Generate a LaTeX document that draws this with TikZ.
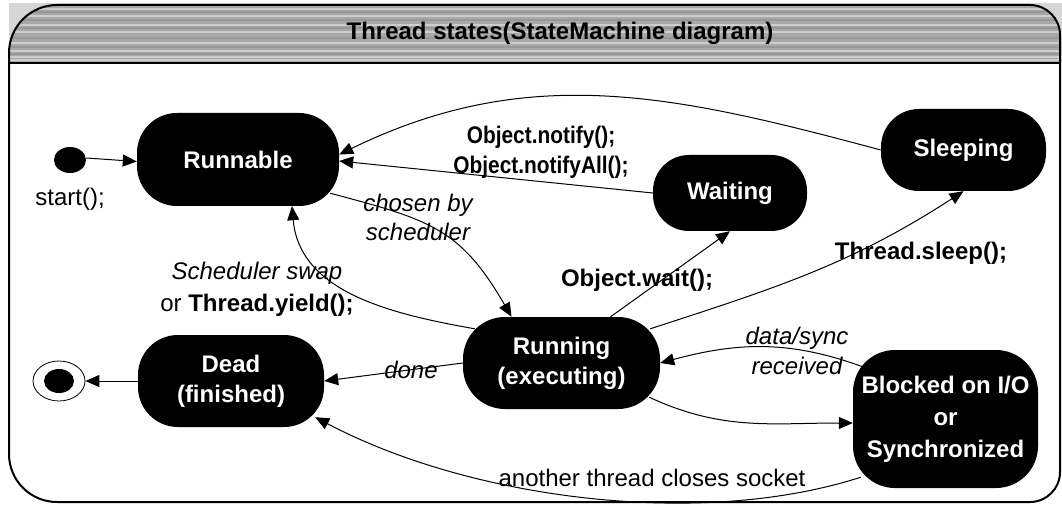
\documentclass[tikz,border=0pt]{standalone}
\usepackage{fontspec}
\setmainfont{Liberation Sans}
\newfontfamily\condfont[FakeStretch=0.87]{Liberation Sans}
\usetikzlibrary{arrows.meta,shapes.geometric}
\definecolor{tbase}{RGB}{168,168,168}
\definecolor{tlight}{RGB}{205,205,205}
\definecolor{tdark}{RGB}{152,152,152}
\definecolor{cornergray}{RGB}{214,214,214}
\begin{document}
\begin{tikzpicture}[x=1pt,y=1pt,
  state/.style={fill=black, text=white, align=center, inner sep=0pt,
    font=\fontsize{24}{30}\selectfont\bfseries},
  conn/.style={draw, line width=1pt, -{Triangle[length=14pt,width=12pt]}},
  lab/.style={align=center, inner sep=0pt, font=\fontsize{24}{30}\selectfont},
  blab/.style={lab, font=\fontsize{24}{30}\selectfont\bfseries},
  ilab/.style={lab, font=\fontsize{24}{30}\selectfont\itshape}
]
\useasboundingbox (0,0) rectangle (1062,504);
% title bar background
\fill[cornergray] (9,441) rectangle (1062,501);
\begin{scope}
  \clip (9,451) -- (9,50) arc[start angle=180,end angle=270,radius=48] -- (1030,2)
    arc[start angle=270,end angle=360,radius=30] -- (1060,469)
    arc[start angle=0,end angle=90,radius=30] -- (57,499)
    arc[start angle=90,end angle=180,radius=48] -- cycle;
  \fill[tbase] (0,441) rectangle (1062,504);
  \foreach \yy in {443,446,452,460,471,478,487,494}
    \fill[tlight] (0,\yy) rectangle (1062,\yy+2);
  \foreach \yy in {449,456,465,475,483,491}
    \fill[tdark] (0,\yy) rectangle (1062,\yy+1.5);
\end{scope}
\draw[line width=2pt] (9,451) -- (9,50) arc[start angle=180,end angle=270,radius=48] -- (1030,2)
    arc[start angle=270,end angle=360,radius=30] -- (1060,469)
    arc[start angle=0,end angle=90,radius=30] -- (57,499)
    arc[start angle=90,end angle=180,radius=48] -- cycle;
\draw[line width=2.5pt] (9,441) -- (1060,441);
\node[blab] (title) at (560,471) {Thread states(StateMachine diagram)};

% states
\node[state, minimum width=202pt, minimum height=93pt, rounded corners=40pt] (runnable) at (238,344.5) {Runnable};
\node[state, minimum width=154pt, minimum height=76pt, rounded corners=36pt] (waiting) at (730,311) {Waiting};
\node[state, minimum width=165pt, minimum height=82pt, rounded corners=38pt] (sleeping) at (963.5,354) {Sleeping};
\node[state, minimum width=197pt, minimum height=92pt, rounded corners=42pt] (running) at (561.5,141) {Running\\(executing)};
\node[state, minimum width=186pt, minimum height=92pt, rounded corners=40pt] (dead) at (231,123) {Dead\\(finished)};
\node[state, minimum width=185pt, minimum height=138pt, rounded corners=42pt,
  font=\fontsize{24}{32}\selectfont\bfseries] (blocked) at (945.5,85) {Blocked on I/O\\or\\Synchronized};

% pseudo states
\node[ellipse, fill=black, minimum width=32pt, minimum height=26pt, inner sep=0pt] (init) at (70,344) {};
\node[ellipse, draw, line width=0.8pt, fill=white, minimum width=52pt, minimum height=40pt, inner sep=0pt] (final) at (59,123) {};
\node[ellipse, fill=black, minimum width=30pt, minimum height=24pt, inner sep=0pt] (finalin) at (final.center) {};

% connectors
\draw[conn] ([yshift=2pt]init.east) -- ([yshift=-2pt]runnable.west);
\draw[conn] (sleeping.west) to[out=165,in=26] ([yshift=5pt]runnable.east);
\draw[conn] (waiting.west) -- ([yshift=-1.5pt]runnable.east);
\draw[conn] ([shift={(-9pt,13pt)}]runnable.south east) to[out=-15,in=120,looseness=1.2] ([xshift=-50pt]running.north);
\draw[conn] ([shift={(12pt,-12pt)}]running.north west) to[out=170,in=-85] ([xshift=54pt]runnable.south);
\draw[conn] ([xshift=49pt]running.north) -- (waiting.south);
\draw[conn] ([shift={(-10pt,-12pt)}]running.north east) to[out=18,in=-147] (sleeping.south);
\draw[conn] ([shift={(10pt,-17pt)}]blocked.north west) to[out=160,in=15] (running.east);
\draw[conn] ([shift={(-11pt,12pt)}]running.south east) to[out=-25,in=180] ([yshift=-4pt]blocked.west);
\draw[conn] ([shift={(8pt,11pt)}]blocked.south west) .. controls (700,-25) and (470,5) .. ([shift={(-9pt,10pt)}]dead.south east);
\draw[conn] (running.west) -- (dead.east);
\draw[conn] (dead.west) -- (final.east);

% labels
\node[lab] (lstart) at (70,305) {start();};
\node[lab, font=\fontsize{24}{30}\selectfont\condfont\bfseries] (lnotify) at (541,352) {Object.notify();\\Object.notifyAll();};
\node[ilab, font=\fontsize{24}{29}\selectfont\itshape] (lchosen) at (418,287) {chosen by\\scheduler};
\node[lab, font=\fontsize{24}{32}\selectfont] (lswap) at (257,215) {\itshape Scheduler swap\\or \textbf{Thread.yield();}};
\node[blab] (lwait) at (637,224) {Object.wait();};
\node[blab] (lsleep) at (921,251) {Thread.sleep();};
\node[ilab] (ldata) at (797,153) {data/sync\\received};
\node[ilab] (ldone) at (411,134) {done};
\node[lab] (lsock) at (652,26) {another thread closes socket};
\end{tikzpicture}
\end{document}
